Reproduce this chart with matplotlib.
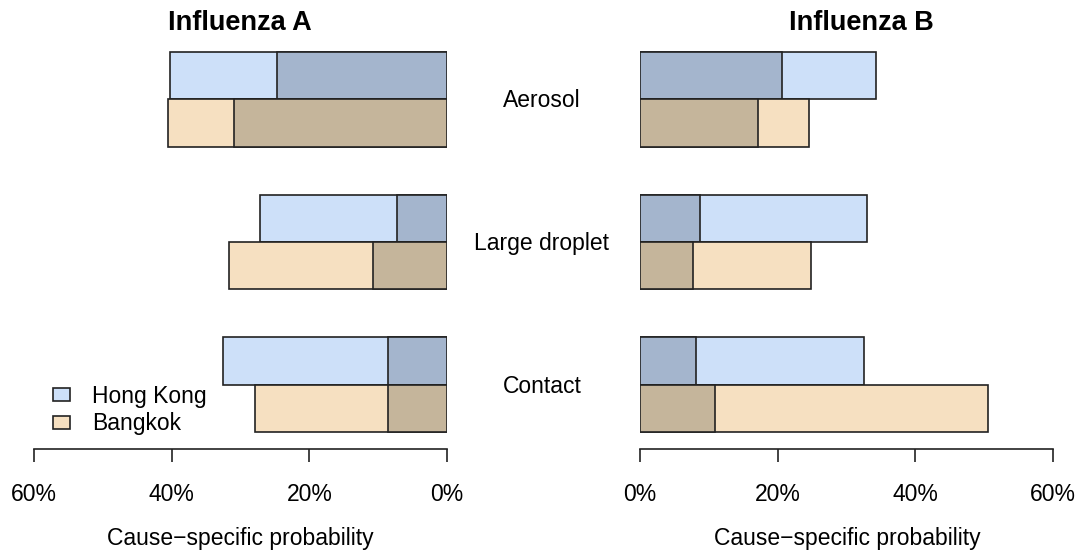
import numpy as np
import matplotlib.pyplot as plt
from matplotlib.patches import Patch
from matplotlib.transforms import blended_transform_factory

plt.rcParams['font.family'] = ['Liberation Sans', 'DejaVu Sans']

# routes of transmission (top to bottom)
routes = ["Aerosol", "Large droplet", "Contact"]
cities = ["Hong Kong", "Bangkok"]

# cause-specific probability (%), total bar and darker inner part
flu_a_hk_total = [40.2, 27.1, 32.6]
flu_a_hk_inner = [24.7, 7.2, 8.6]
flu_a_bk_total = [40.5, 31.7, 27.9]
flu_a_bk_inner = [31.0, 10.8, 8.6]

flu_b_hk_total = [34.3, 33.0, 32.6]
flu_b_hk_inner = [20.6, 8.7, 8.1]
flu_b_bk_total = [24.5, 24.9, 50.5]
flu_b_bk_inner = [17.2, 7.7, 10.9]

ticks = [0, 20, 40, 60]
tick_labels = ["0%", "20%", "40%", "60%"]

hk_light, hk_dark = "#cde0f9", "#a4b5cd"
bk_light, bk_dark = "#f6e0c1", "#c5b59b"
edge = "#222222"

W, H = 1079, 559
fig = plt.figure(figsize=(W / 100, H / 100), dpi=100)

bottom_px, top_px = 449, 40
ax_a = fig.add_axes([34 / W, 1 - bottom_px / H, 413 / W, (bottom_px - top_px) / H])
ax_b = fig.add_axes([640 / W, 1 - bottom_px / H, 413 / W, (bottom_px - top_px) / H])

y = np.arange(len(routes))
h = 0.332


def draw_panel(ax, hk_tot, hk_in, bk_tot, bk_in):
    ax.barh(y - h / 2, hk_tot, height=h, color=hk_light, edgecolor=edge, linewidth=1.2)
    ax.barh(y - h / 2, hk_in, height=h, color=hk_dark, edgecolor=edge, linewidth=1.2)
    ax.barh(y + h / 2, bk_tot, height=h, color=bk_light, edgecolor=edge, linewidth=1.2)
    ax.barh(y + h / 2, bk_in, height=h, color=bk_dark, edgecolor=edge, linewidth=1.2)
    ax.set_ylim(2.448, -0.413)
    ax.set_yticks([])
    for s in ["top", "left", "right"]:
        ax.spines[s].set_visible(False)
    ax.spines["bottom"].set_color(edge)
    ax.spines["bottom"].set_linewidth(1.2)
    ax.set_xticks(ticks)
    ax.set_xticklabels(tick_labels, fontsize=16.5)
    ax.tick_params(axis="x", direction="out", length=9.5, width=1.2,
                   color=edge, pad=15)


draw_panel(ax_a, flu_a_hk_total, flu_a_hk_inner, flu_a_bk_total, flu_a_bk_inner)
ax_a.set_xlim(60, 0)
draw_panel(ax_b, flu_b_hk_total, flu_b_hk_inner, flu_b_bk_total, flu_b_bk_inner)
ax_b.set_xlim(0, 60)

# route labels in the middle
tr = blended_transform_factory(fig.transFigure, ax_b.transData)
for i, r in enumerate(routes):
    ax_b.text(542 / W, y[i] + 0.012, r, transform=tr, ha="center", va="center",
              fontsize=16.5, clip_on=False)

fig.text(240 / W, 1 - 23.5 / H, "Influenza A", ha="center", va="center",
         fontsize=19.5, fontweight="bold")
fig.text(861 / W, 1 - 23.5 / H, "Influenza B", ha="center", va="center",
         fontsize=19.5, fontweight="bold")

for xc in [240, 847]:
    fig.text(xc / W, 1 - 539 / H, "Cause\u2212specific probability",
             ha="center", va="center", fontsize=16.5)

handles = [Patch(facecolor=hk_light, edgecolor=edge, linewidth=1.2),
           Patch(facecolor=bk_light, edgecolor=edge, linewidth=1.2)]
fig.legend(handles, cities, loc="center left",
           bbox_to_anchor=(53 / W, 1 - 410 / H), bbox_transform=fig.transFigure,
           frameon=False, fontsize=16.5, handlelength=0.75, handleheight=0.5,
           handletextpad=0.97, labelspacing=0.2, borderpad=0, borderaxespad=0)

fig.savefig("out.png", dpi=100)
